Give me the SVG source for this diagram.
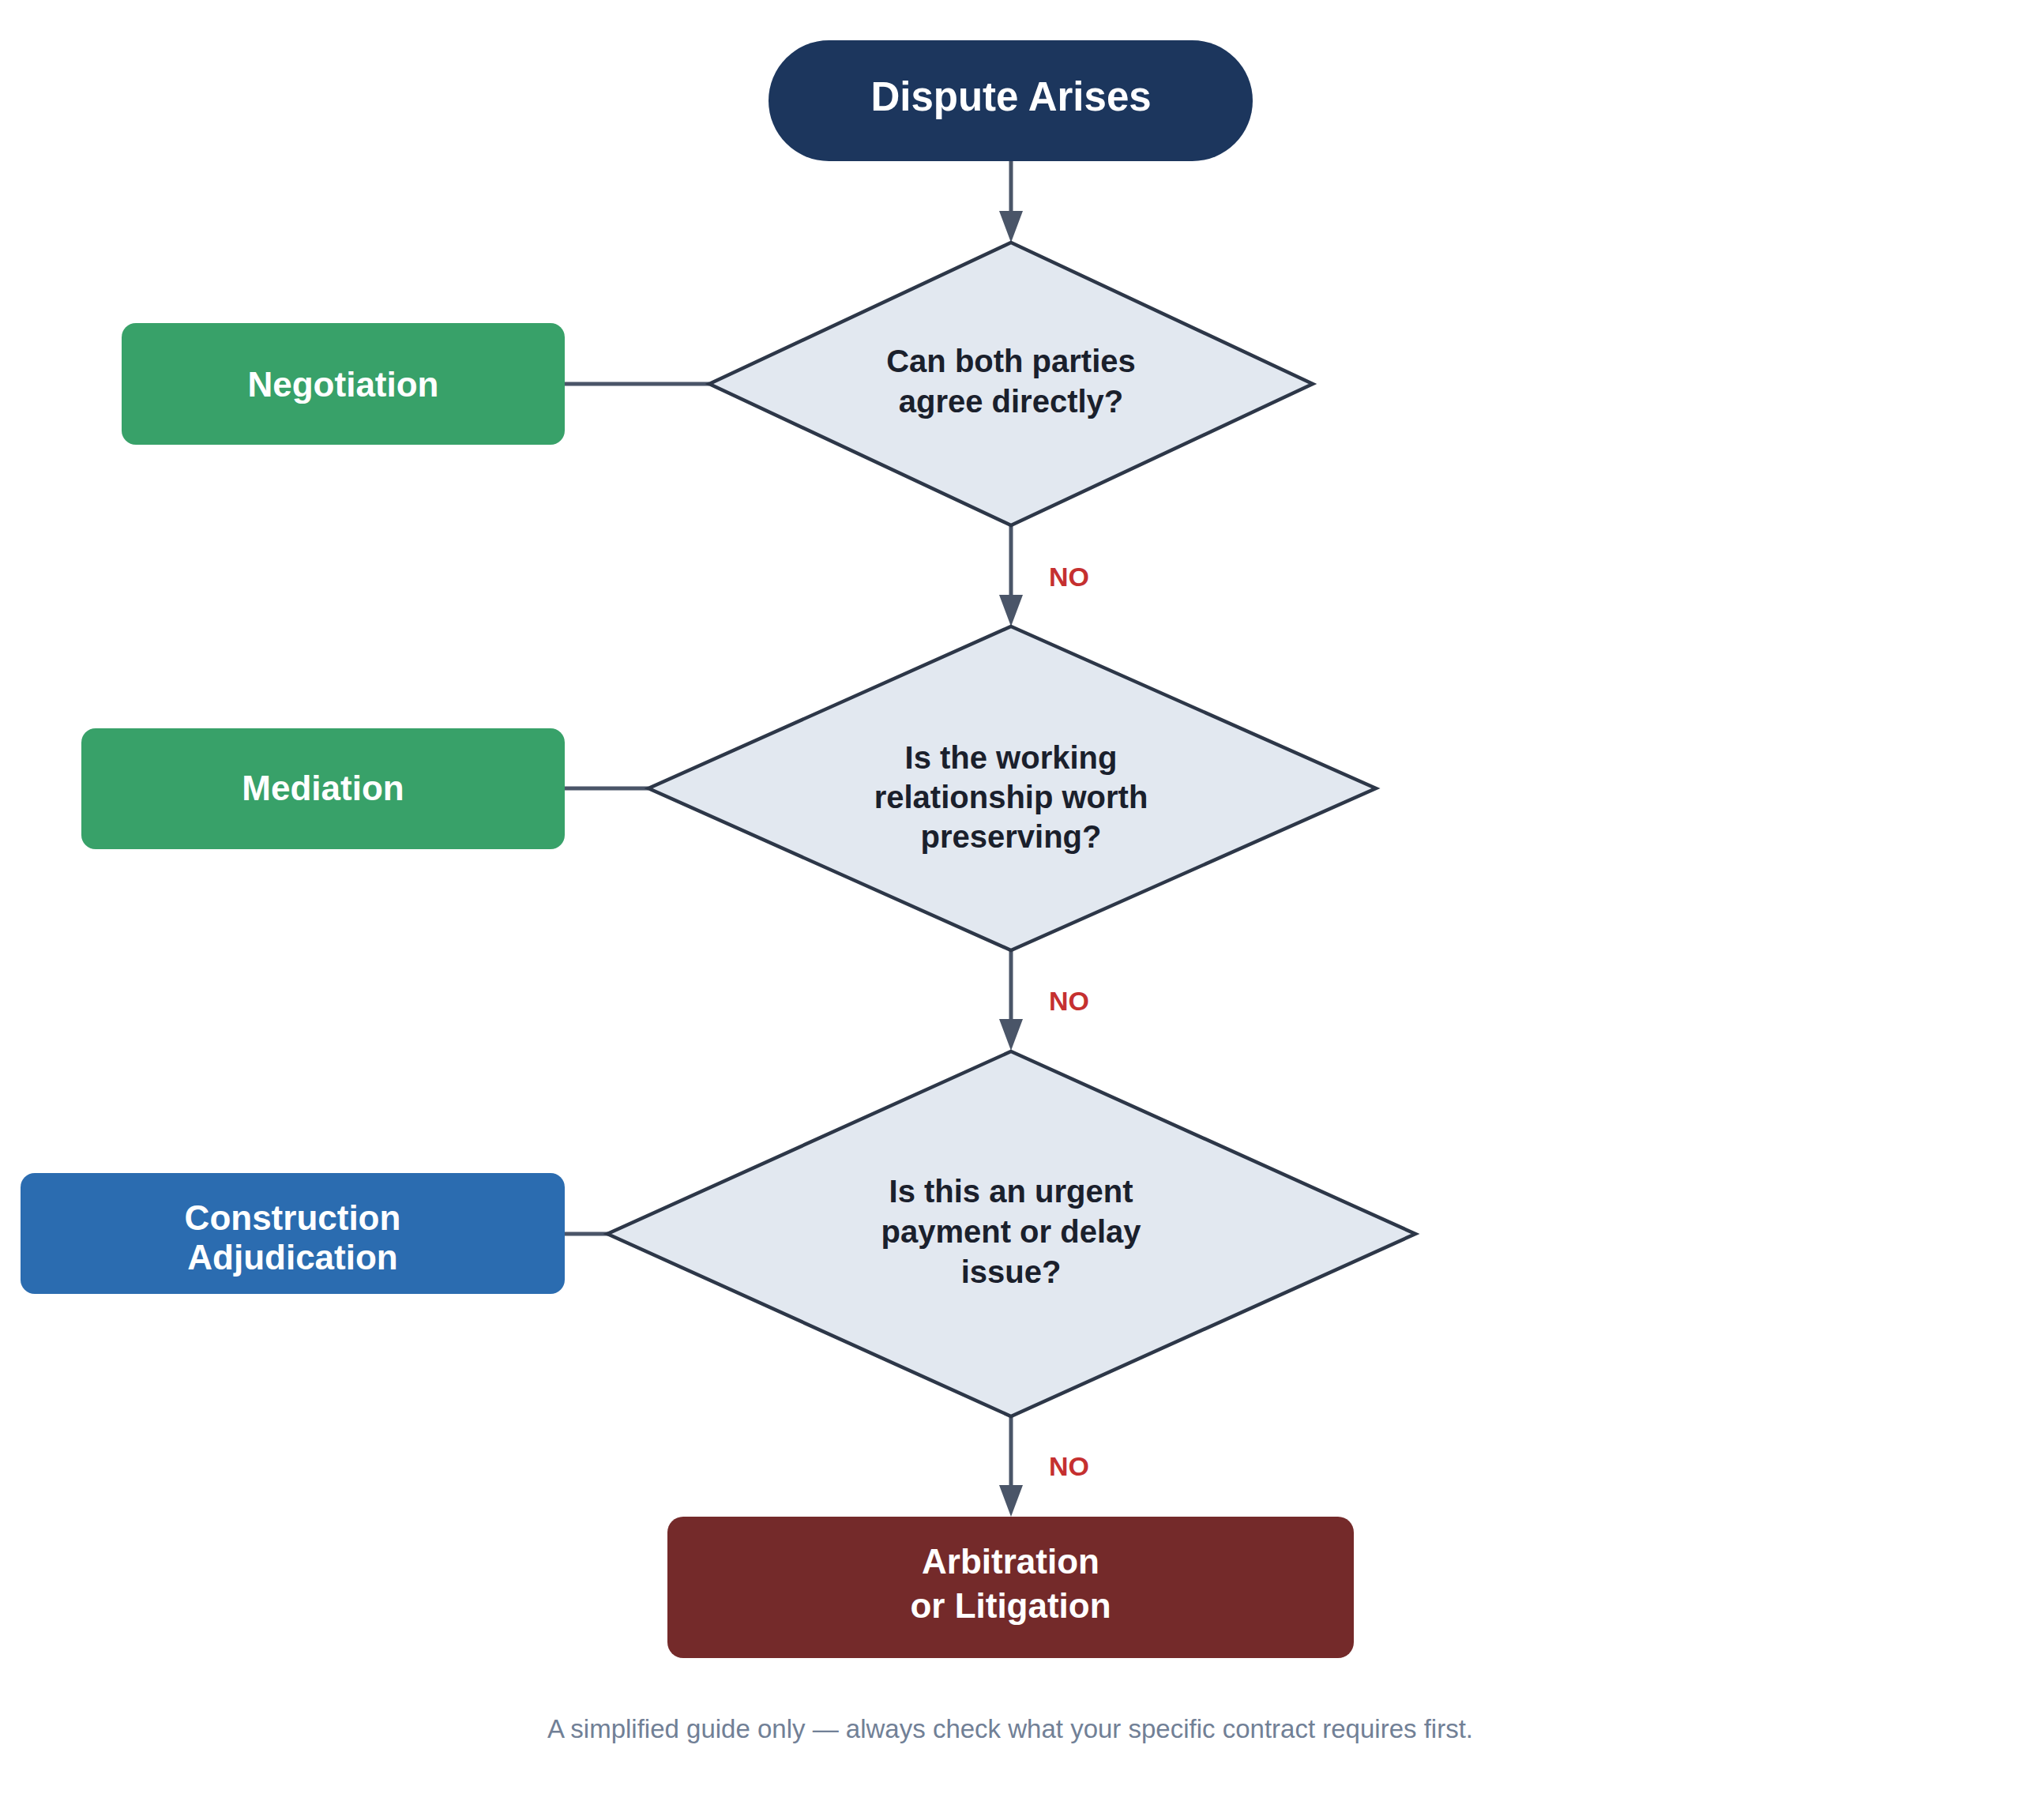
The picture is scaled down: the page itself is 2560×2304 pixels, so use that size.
<svg xmlns="http://www.w3.org/2000/svg" width="2560" height="2304" viewBox="0 0 2560 2304">
<defs>
<style>
.t{font-family:"Liberation Sans",Arial,sans-serif;font-weight:bold;text-anchor:middle}
.w{fill:#ffffff}
.q{fill:#1a202c;font-size:40px}
.box{font-size:44px}
.dia{fill:#e2e8f0;stroke:#2d3748;stroke-width:4.5;stroke-linejoin:miter}
.conn{stroke:#4a5568;stroke-width:5;fill:none}
.no{font-family:"Liberation Sans",Arial,sans-serif;font-weight:bold;font-size:34px;fill:#c53030}
</style>
<marker id="ah" markerUnits="userSpaceOnUse" markerWidth="40" markerHeight="30" viewBox="0 0 40 30" refX="0" refY="15" orient="auto">
<path d="M0,0 L40,15 L0,30 z" fill="#4a5568"/>
</marker>
</defs>
<rect width="2560" height="2304" fill="#ffffff"/>
<g id="connectors">
<line class="conn" x1="1280" y1="204" x2="1280" y2="267" marker-end="url(#ah)"/>
<line class="conn" x1="1280" y1="665" x2="1280" y2="753" marker-end="url(#ah)"/>
<line class="conn" x1="1280" y1="1203" x2="1280" y2="1290" marker-end="url(#ah)"/>
<line class="conn" x1="1280" y1="1793" x2="1280" y2="1880" marker-end="url(#ah)"/>
<line class="conn" x1="715" y1="486" x2="898" y2="486"/>
<line class="conn" x1="715" y1="998" x2="821" y2="998"/>
<line class="conn" x1="715" y1="1562" x2="770" y2="1562"/>
<text class="no" x="1328" y="742">NO</text>
<text class="no" x="1328" y="1279">NO</text>
<text class="no" x="1328" y="1868">NO</text>
</g>
<g id="start">
<rect x="973" y="51" width="613" height="153" rx="76.5" fill="#1c365d"/>
<text class="t w" x="1280" y="140" font-size="51">Dispute Arises</text>
</g>
<g id="q1">
<polygon class="dia" points="1280,307 1662,486 1280,665 898,486"/>
<text class="t q" x="1280" y="471">Can both parties</text>
<text class="t q" x="1280" y="522">agree directly?</text>
</g>
<g id="negotiation">
<rect x="154" y="409" width="561" height="154" rx="18" fill="#38a169"/>
<text class="t w box" x="434.5" y="502">Negotiation</text>
</g>
<g id="q2">
<polygon class="dia" points="1280,793 1742,998 1280,1203 821,998"/>
<text class="t q" x="1280" y="973">Is the working</text>
<text class="t q" x="1280" y="1023">relationship worth</text>
<text class="t q" x="1280" y="1073">preserving?</text>
</g>
<g id="mediation">
<rect x="103" y="922" width="612" height="153" rx="18" fill="#38a169"/>
<text class="t w box" x="409" y="1013">Mediation</text>
</g>
<g id="q3">
<polygon class="dia" points="1280,1331 1792,1562 1280,1793 769,1562"/>
<text class="t q" x="1280" y="1522">Is this an urgent</text>
<text class="t q" x="1280" y="1573">payment or delay</text>
<text class="t q" x="1280" y="1624">issue?</text>
</g>
<g id="adjudication">
<rect x="26" y="1485" width="689" height="153" rx="18" fill="#2b6cb0"/>
<text class="t w box" x="370.5" y="1557">Construction</text>
<text class="t w box" x="370.5" y="1607">Adjudication</text>
</g>
<g id="arbitration">
<rect x="845" y="1920" width="869" height="179" rx="20" fill="#742a2a"/>
<text class="t w box" x="1279.5" y="1992">Arbitration</text>
<text class="t w box" x="1279.5" y="2048">or Litigation</text>
</g>
<text x="1279" y="2200" font-family="Liberation Sans, Arial, sans-serif" font-size="33" fill="#718096" text-anchor="middle">A simplified guide only — always check what your specific contract requires first.</text>
</svg>
